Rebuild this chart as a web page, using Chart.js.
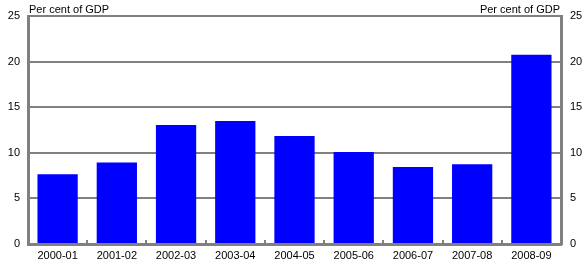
<!DOCTYPE html>
<html>
<head>
<meta charset="utf-8">
<script src="https://cdn.jsdelivr.net/npm/chart.js@4/dist/chart.umd.min.js"></script>
<style>
    html, body { margin: 0; padding: 0; background: #fff; }
    #chart { display: block; }
</style>
</head>
<body>
<canvas id="chart" width="585" height="263"></canvas>
<script>
const categories = ['2000-01', '2001-02', '2002-03', '2003-04', '2004-05', '2005-06', '2006-07', '2007-08', '2008-09'];
const values = [7.65, 8.95, 13.05, 13.5, 11.85, 10.1, 8.45, 8.75, 20.75];
const yTicks = [0, 5, 10, 15, 20, 25];
const unitLabel = 'Per cent of GDP';

const GREY = '#808080';
const FONT = { family: '"Liberation Sans", Arial, sans-serif', size: 11 };

// small upward ticks between categories + unit labels above the box
const decorations = {
    id: 'decorations',
    afterDatasetsDraw(chart) {
        const { ctx, chartArea, scales } = chart;
        const x = scales.x;
        ctx.save();
        ctx.strokeStyle = GREY;
        ctx.lineWidth = 2;
        for (let i = 1; i < categories.length; i++) {
            const px = Math.round((x.getPixelForTick(i - 1) + x.getPixelForTick(i)) / 2);
            ctx.beginPath();
            ctx.moveTo(px, chartArea.bottom);
            ctx.lineTo(px, chartArea.bottom - 4);
            ctx.stroke();
        }
        ctx.fillStyle = '#000';
        ctx.font = FONT.size + 'px ' + FONT.family;
        ctx.textBaseline = 'bottom';
        ctx.textAlign = 'left';
        ctx.fillText(unitLabel, chartArea.left + 1, chartArea.top - 1);
        ctx.textAlign = 'right';
        ctx.fillText(unitLabel, chartArea.right - 1, chartArea.top - 1);
        ctx.restore();
    }
};

new Chart(document.getElementById('chart'), {
    type: 'bar',
    data: {
        labels: categories,
        datasets: [{
            data: values,
            backgroundColor: '#0000FF',
            borderWidth: 0,
            barPercentage: 0.68,
            categoryPercentage: 1
        }]
    },
    options: {
        responsive: false,
        animation: false,
        devicePixelRatio: 1,
        layout: { padding: { top: 16, left: 0, right: 0, bottom: 0 } },
        plugins: {
            legend: { display: false },
            tooltip: { enabled: false }
        },
        scales: {
            x: {
                offset: true,
                grid: { display: false, drawTicks: false },
                border: { display: true, color: GREY, width: 3 },
                ticks: { color: '#000', font: FONT, maxRotation: 0, padding: 5 },
                afterFit: s => { s.height = 19; }
            },
            y: {
                position: 'left',
                min: 0,
                max: 25,
                afterBuildTicks: s => { s.ticks = yTicks.map(v => ({ value: v })); },
                ticks: { color: '#000', font: FONT, padding: 8 },
                grid: { color: GREY, lineWidth: 2, drawTicks: false },
                border: { display: true, color: GREY, width: 3 },
                afterFit: s => { s.width = 28; }
            },
            y2: {
                position: 'right',
                min: 0,
                max: 25,
                afterBuildTicks: s => { s.ticks = yTicks.map(v => ({ value: v })); },
                ticks: { color: '#000', font: FONT, padding: 9 },
                grid: { drawOnChartArea: false, drawTicks: false },
                border: { display: true, color: GREY, width: 3 },
                afterFit: s => { s.width = 24; }
            }
        }
    },
    plugins: [decorations]
});
</script>
</body>
</html>
